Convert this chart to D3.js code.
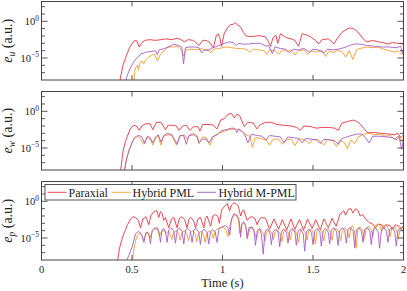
<!DOCTYPE html>
<html>
<head>
<meta charset="utf-8">
<script src="https://cdn.jsdelivr.net/npm/d3@7"></script>
<style>
  body { margin: 0; background: white; }
  svg { display: block; font-family: "Liberation Serif", "DejaVu Serif", serif; }
</style>
</head>
<body>
<svg id="chart" width="407" height="291"></svg>
<script>
// time axis ticks (s)
const timeTicks = [0, 0.5, 1, 1.5, 2];
const seriesNames = ["Paraxial", "Hybrid PML", "Hybrid M-PML"];
const seriesColors = ["#e8343f", "#fb9a2c", "#a45dc4"];
const panelSubs = ["u", "w", "p"];
const majorExps = [0, -5];      // labelled decades
const minorExps = [-7, -6, -5, -4, -3, -2, -1, 0, 1, 2];

// every point: [time, log10(error)]
const euParaxial = [[0.43,-8.5],[0.45,-6.0],[0.47,-4.6],[0.49,-3.4],[0.51,-2.7],[0.525,-2.6],[0.54,-3.5],[0.555,-2.9],[0.57,-2.6],[0.60,-2.5],[0.63,-2.6],[0.66,-2.5],[0.69,-2.4],[0.72,-2.5],[0.75,-2.3],[0.77,-2.5],[0.79,-2.8],[0.81,-2.5],[0.84,-2.6],[0.87,-3.3],[0.89,-2.6],[0.91,-2.6],[0.93,-2.9],[0.95,-3.6],[0.965,-2.0],[0.975,-1.7],[0.985,-2.2],[0.995,-3.4],[1.01,-1.6],[1.03,-0.8],[1.045,-0.45],[1.06,-0.4],[1.07,-0.2],[1.085,-0.5],[1.10,-0.8],[1.115,-1.5],[1.13,-2.0],[1.16,-2.1],[1.20,-1.95],[1.235,-2.1],[1.25,-2.6],[1.265,-3.4],[1.28,-2.2],[1.295,-1.9],[1.305,-3.0],[1.32,-1.7],[1.35,-2.2],[1.38,-2.4],[1.40,-2.6],[1.42,-3.4],[1.44,-1.7],[1.47,-1.9],[1.49,-2.2],[1.515,-2.6],[1.53,-3.1],[1.55,-2.5],[1.585,-2.4],[1.60,-2.7],[1.615,-3.1],[1.635,-2.3],[1.66,-1.5],[1.68,-1.2],[1.70,-0.9],[1.725,-1.0],[1.745,-1.4],[1.765,-2.0],[1.785,-2.6],[1.80,-2.8],[1.83,-2.6],[1.86,-2.8],[1.89,-2.9],[1.91,-3.1],[1.94,-2.9],[1.97,-3.0],[2.0,-3.1]];
const euHybridPml = [[0.51,-8.5],[0.515,-6.8],[0.52,-6.3],[0.53,-6.0],[0.535,-6.6],[0.545,-5.6],[0.555,-5.4],[0.565,-5.8],[0.575,-5.3],[0.59,-4.9],[0.61,-4.6],[0.625,-4.5],[0.64,-5.4],[0.655,-4.6],[0.68,-3.9],[0.70,-3.5],[0.73,-3.5],[0.75,-3.4],[0.77,-3.8],[0.785,-4.7],[0.80,-3.9],[0.83,-3.8],[0.86,-3.9],[0.88,-3.7],[0.90,-3.9],[0.92,-3.8],[0.935,-4.3],[0.95,-3.8],[0.98,-3.7],[1.00,-3.6],[1.02,-3.5],[1.05,-3.6],[1.08,-3.7],[1.10,-3.7],[1.13,-3.8],[1.15,-4.2],[1.17,-3.8],[1.20,-3.9],[1.23,-4.0],[1.245,-4.5],[1.26,-3.9],[1.29,-4.0],[1.31,-4.5],[1.33,-3.9],[1.36,-4.1],[1.38,-3.9],[1.40,-4.6],[1.42,-4.0],[1.45,-3.9],[1.47,-4.5],[1.49,-4.0],[1.52,-4.2],[1.55,-4.0],[1.57,-4.8],[1.59,-4.0],[1.61,-4.3],[1.63,-4.0],[1.66,-4.1],[1.68,-4.9],[1.70,-4.0],[1.72,-5.2],[1.74,-3.9],[1.76,-3.7],[1.78,-3.6],[1.80,-3.5],[1.83,-3.6],[1.86,-3.5],[1.89,-3.8],[1.92,-4.0],[1.95,-4.2],[1.97,-4.0],[1.99,-4.5],[2.0,-4.3]];
const euHybridMpml = [[0.46,-8.5],[0.475,-7.3],[0.49,-6.4],[0.51,-5.5],[0.53,-4.9],[0.55,-4.45],[0.58,-4.2],[0.61,-4.1],[0.63,-4.0],[0.64,-4.5],[0.65,-3.9],[0.68,-3.7],[0.71,-3.4],[0.73,-3.1],[0.755,-3.3],[0.775,-3.5],[0.785,-5.8],[0.795,-3.6],[0.82,-3.5],[0.85,-3.5],[0.87,-3.6],[0.885,-4.3],[0.90,-3.9],[0.92,-4.0],[0.935,-3.7],[0.96,-3.5],[0.98,-3.3],[1.00,-3.1],[1.035,-2.8],[1.06,-2.9],[1.075,-3.3],[1.09,-3.0],[1.11,-3.1],[1.14,-3.1],[1.18,-3.0],[1.21,-3.0],[1.24,-3.4],[1.255,-3.3],[1.275,-4.4],[1.29,-3.5],[1.32,-3.7],[1.35,-3.8],[1.37,-4.3],[1.39,-3.8],[1.42,-3.9],[1.45,-3.7],[1.48,-4.2],[1.50,-3.8],[1.53,-3.9],[1.56,-4.3],[1.58,-3.8],[1.61,-3.9],[1.64,-3.8],[1.67,-3.6],[1.70,-3.3],[1.73,-3.1],[1.76,-3.1],[1.80,-3.3],[1.84,-3.4],[1.88,-3.5],[1.92,-3.5],[1.96,-3.6],[1.985,-3.4],[1.995,-4.4],[2.0,-3.8]];

const ewParaxial = [[0.435,-8.5],[0.45,-5.5],[0.465,-4.0],[0.49,-2.4],[0.51,-1.9],[0.525,-2.0],[0.54,-2.6],[0.555,-2.0],[0.575,-1.7],[0.60,-1.7],[0.615,-2.5],[0.635,-1.5],[0.66,-1.5],[0.685,-2.5],[0.70,-1.9],[0.73,-1.9],[0.745,-2.0],[0.76,-2.6],[0.78,-2.0],[0.80,-1.9],[0.82,-2.6],[0.84,-2.1],[0.865,-2.1],[0.875,-2.7],[0.89,-1.8],[0.93,-1.8],[0.95,-1.9],[0.97,-2.4],[0.99,-1.2],[1.01,-1.0],[1.03,-0.4],[1.05,-0.3],[1.065,-0.9],[1.08,-0.4],[1.095,-0.6],[1.12,-2.1],[1.14,-1.5],[1.17,-1.6],[1.19,-2.4],[1.21,-1.8],[1.24,-1.5],[1.27,-1.5],[1.30,-1.8],[1.34,-1.9],[1.38,-2.0],[1.41,-2.2],[1.43,-2.6],[1.45,-2.0],[1.49,-2.1],[1.52,-2.3],[1.55,-2.2],[1.59,-2.2],[1.62,-2.3],[1.64,-2.6],[1.66,-1.6],[1.69,-1.4],[1.72,-1.2],[1.745,-1.4],[1.77,-2.0],[1.80,-2.9],[1.84,-2.9],[1.88,-3.0],[1.92,-3.1],[1.95,-3.2],[1.97,-3.0],[1.985,-3.6],[2.0,-3.2]];
const ewHybridPml = [[0.455,-8.5],[0.47,-6.5],[0.485,-5.2],[0.51,-3.8],[0.525,-3.5],[0.54,-3.5],[0.55,-3.9],[0.565,-4.5],[0.58,-3.6],[0.60,-3.7],[0.615,-4.6],[0.63,-3.6],[0.645,-3.4],[0.66,-4.6],[0.675,-3.4],[0.70,-3.2],[0.72,-3.3],[0.745,-4.6],[0.765,-3.4],[0.79,-3.2],[0.80,-3.8],[0.82,-3.2],[0.84,-3.0],[0.86,-3.3],[0.87,-4.4],[0.89,-3.5],[0.91,-3.6],[0.93,-4.6],[0.95,-3.4],[0.98,-3.0],[1.01,-2.7],[1.04,-2.5],[1.07,-2.4],[1.09,-2.5],[1.11,-2.8],[1.13,-3.2],[1.15,-3.4],[1.165,-4.9],[1.18,-3.6],[1.21,-3.7],[1.24,-3.9],[1.26,-4.6],[1.28,-3.8],[1.31,-3.8],[1.33,-4.5],[1.35,-3.9],[1.38,-3.8],[1.40,-4.7],[1.42,-3.8],[1.45,-3.8],[1.48,-4.4],[1.50,-3.8],[1.53,-3.9],[1.56,-4.6],[1.58,-3.8],[1.61,-4.0],[1.63,-4.8],[1.65,-3.9],[1.67,-4.2],[1.69,-5.1],[1.71,-3.9],[1.73,-4.4],[1.75,-3.5],[1.78,-3.1],[1.81,-3.0],[1.84,-3.2],[1.87,-3.1],[1.90,-3.4],[1.93,-3.3],[1.95,-3.8],[1.97,-3.4],[1.99,-4.0],[2.0,-3.6]];
const ewHybridMpml = [[0.455,-8.5],[0.47,-6.5],[0.485,-5.2],[0.51,-3.7],[0.525,-3.4],[0.54,-3.3],[0.555,-3.5],[0.57,-4.4],[0.585,-3.4],[0.60,-3.6],[0.615,-4.3],[0.63,-3.5],[0.645,-3.2],[0.66,-4.2],[0.675,-3.3],[0.70,-3.0],[0.72,-3.2],[0.75,-4.5],[0.765,-3.3],[0.785,-3.3],[0.80,-4.5],[0.815,-3.3],[0.84,-3.2],[0.86,-3.5],[0.87,-4.3],[0.89,-3.8],[0.91,-3.8],[0.925,-4.3],[0.945,-3.5],[0.97,-3.2],[0.99,-2.7],[1.02,-2.5],[1.05,-2.3],[1.065,-2.3],[1.08,-2.9],[1.09,-2.4],[1.10,-2.6],[1.12,-3.0],[1.14,-4.3],[1.16,-3.1],[1.19,-3.3],[1.22,-3.4],[1.24,-3.9],[1.26,-3.3],[1.29,-3.4],[1.32,-3.5],[1.34,-4.3],[1.36,-3.5],[1.39,-3.6],[1.42,-3.7],[1.44,-4.3],[1.46,-3.7],[1.49,-3.8],[1.52,-3.9],[1.54,-4.4],[1.56,-3.8],[1.59,-3.9],[1.62,-4.0],[1.64,-4.5],[1.66,-3.7],[1.70,-3.4],[1.74,-3.1],[1.77,-3.1],[1.79,-3.6],[1.81,-4.3],[1.83,-3.4],[1.87,-3.4],[1.91,-3.5],[1.94,-3.6],[1.96,-3.9],[1.975,-3.4],[1.99,-5.2],[2.0,-3.8]];

const epParaxial = [[0.418,-8.5],[0.43,-6.5],[0.445,-5.1],[0.46,-4.1],[0.475,-3.2],[0.49,-2.5],[0.505,-2.1],[0.52,-2.2],[0.535,-2.6],[0.547,-3.6],[0.56,-2.4],[0.577,-2.1],[0.593,-3.2],[0.605,-1.9],[0.622,-1.4],[0.638,-1.3],[0.648,-2.2],[0.657,-1.4],[0.667,-1.7],[0.675,-2.6],[0.685,-2.2],[0.703,-3.6],[0.718,-2.4],[0.731,-2.2],[0.749,-3.6],[0.762,-2.3],[0.777,-2.1],[0.791,-2.5],[0.804,-3.6],[0.815,-2.4],[0.823,-2.2],[0.84,-2.6],[0.851,-3.6],[0.865,-2.4],[0.878,-2.2],[0.897,-3.6],[0.906,-2.3],[0.915,-2.0],[0.934,-3.4],[0.947,-2.0],[0.96,-1.8],[0.975,-2.1],[0.983,-3.0],[0.995,-1.2],[1.007,-0.8],[1.026,-0.3],[1.039,-1.3],[1.05,-0.5],[1.063,-0.2],[1.078,-0.4],[1.087,-0.6],[1.10,-2.0],[1.11,-1.3],[1.118,-1.2],[1.136,-2.6],[1.15,-2.2],[1.164,-2.1],[1.18,-2.4],[1.191,-3.2],[1.205,-2.4],[1.219,-2.2],[1.238,-2.3],[1.26,-3.8],[1.285,-2.4],[1.31,-3.8],[1.33,-2.5],[1.355,-3.9],[1.378,-2.4],[1.40,-3.8],[1.425,-2.5],[1.448,-3.9],[1.47,-2.4],[1.495,-3.7],[1.515,-2.5],[1.54,-3.9],[1.56,-2.4],[1.585,-3.6],[1.605,-2.3],[1.628,-3.4],[1.65,-1.7],[1.67,-1.3],[1.68,-1.9],[1.695,-1.1],[1.71,-1.0],[1.72,-1.6],[1.735,-1.0],[1.75,-1.3],[1.76,-2.0],[1.775,-1.8],[1.79,-2.4],[1.81,-2.9],[1.83,-3.1],[1.845,-3.6],[1.86,-3.1],[1.88,-3.2],[1.89,-3.7],[1.905,-3.2],[1.925,-3.3],[1.94,-3.8],[1.955,-3.2],[1.975,-3.4],[1.99,-3.8],[2.0,-3.3]];
const epHybridPml = [[0.50,-8.5],[0.51,-6.6],[0.52,-5.3],[0.53,-4.6],[0.545,-4.3],[0.558,-4.8],[0.566,-5.3],[0.578,-4.4],[0.59,-4.3],[0.60,-5.0],[0.612,-4.1],[0.625,-3.8],[0.64,-3.8],[0.652,-4.7],[0.66,-4.3],[0.675,-3.9],[0.688,-4.4],[0.70,-4.1],[0.712,-4.6],[0.72,-5.2],[0.73,-4.3],[0.745,-4.0],[0.758,-4.4],[0.766,-5.3],[0.776,-4.3],[0.79,-4.0],[0.804,-4.5],[0.812,-5.4],[0.822,-4.3],[0.836,-4.0],[0.85,-4.5],[0.858,-5.5],[0.868,-4.3],[0.882,-4.1],[0.896,-4.6],[0.904,-5.6],[0.914,-4.3],[0.928,-4.0],[0.942,-4.4],[0.95,-5.1],[0.96,-4.0],[0.975,-3.7],[0.99,-3.6],[1.005,-3.5],[1.02,-4.0],[1.03,-4.8],[1.045,-2.8],[1.06,-2.0],[1.075,-1.9],[1.088,-2.5],[1.096,-4.4],[1.106,-3.1],[1.12,-2.9],[1.13,-3.6],[1.14,-4.8],[1.152,-3.7],[1.165,-3.6],[1.178,-4.3],[1.188,-5.2],[1.198,-4.0],[1.21,-3.8],[1.225,-4.4],[1.235,-5.4],[1.245,-4.1],[1.258,-3.9],[1.272,-4.3],[1.282,-5.2],[1.292,-4.1],[1.305,-3.9],[1.318,-4.4],[1.328,-5.5],[1.338,-4.1],[1.35,-3.9],[1.364,-4.3],[1.374,-5.3],[1.384,-4.0],[1.397,-3.8],[1.41,-4.4],[1.42,-5.6],[1.43,-4.0],[1.443,-3.8],[1.457,-4.3],[1.467,-5.3],[1.477,-4.0],[1.49,-3.8],[1.503,-4.4],[1.513,-5.8],[1.523,-4.0],[1.536,-3.7],[1.55,-4.3],[1.56,-5.4],[1.57,-4.0],[1.583,-3.7],[1.596,-4.2],[1.606,-5.3],[1.616,-3.9],[1.63,-3.7],[1.643,-4.2],[1.653,-5.4],[1.663,-3.9],[1.676,-3.6],[1.69,-4.1],[1.70,-5.0],[1.71,-3.5],[1.72,-3.3],[1.73,-4.2],[1.738,-6.4],[1.748,-3.9],[1.76,-3.5],[1.774,-4.0],[1.784,-5.1],[1.794,-3.7],[1.808,-3.4],[1.822,-4.0],[1.83,-4.9],[1.84,-3.4],[1.855,-3.1],[1.87,-3.3],[1.88,-4.1],[1.89,-3.3],[1.905,-3.2],[1.918,-3.8],[1.926,-4.8],[1.936,-3.6],[1.95,-3.5],[1.962,-4.0],[1.972,-5.0],[1.982,-3.6],[1.995,-3.5],[2.0,-3.6]];
const epHybridMpml = [[0.464,-8.5],[0.482,-7.4],[0.501,-6.2],[0.52,-4.4],[0.538,-4.1],[0.552,-4.5],[0.566,-5.6],[0.576,-4.3],[0.584,-4.2],[0.594,-4.6],[0.602,-5.8],[0.611,-4.0],[0.62,-3.7],[0.639,-3.6],[0.65,-4.2],[0.657,-5.6],[0.666,-3.9],[0.675,-3.7],[0.686,-4.2],[0.694,-5.6],[0.703,-3.9],[0.715,-3.6],[0.73,-4.0],[0.74,-5.7],[0.75,-3.9],[0.762,-3.6],[0.777,-4.1],[0.786,-5.8],[0.796,-3.9],[0.808,-3.7],[0.823,-4.1],[0.832,-5.6],[0.842,-3.9],[0.855,-3.7],[0.869,-4.2],[0.878,-5.9],[0.888,-4.0],[0.90,-3.8],[0.915,-4.3],[0.924,-5.8],[0.934,-4.1],[0.947,-3.9],[0.96,-4.2],[0.97,-5.6],[0.98,-3.8],[0.995,-3.5],[1.017,-3.3],[1.03,-3.6],[1.04,-4.6],[1.05,-2.4],[1.063,-1.7],[1.081,-1.9],[1.092,-2.6],[1.10,-4.9],[1.108,-3.0],[1.118,-2.8],[1.128,-3.3],[1.136,-5.1],[1.146,-3.6],[1.164,-3.5],[1.174,-4.0],[1.182,-6.0],[1.192,-4.0],[1.205,-3.7],[1.215,-4.5],[1.225,-7.2],[1.235,-4.1],[1.25,-3.8],[1.262,-4.3],[1.27,-5.9],[1.28,-4.1],[1.295,-3.8],[1.308,-4.3],[1.316,-6.2],[1.326,-4.1],[1.34,-3.8],[1.354,-4.3],[1.362,-5.7],[1.372,-4.0],[1.386,-3.7],[1.40,-4.2],[1.408,-6.0],[1.418,-4.0],[1.432,-3.8],[1.446,-4.4],[1.454,-6.8],[1.464,-4.1],[1.478,-3.8],[1.492,-4.3],[1.50,-5.9],[1.51,-4.0],[1.524,-3.7],[1.538,-4.2],[1.546,-6.1],[1.556,-4.0],[1.57,-3.7],[1.584,-4.2],[1.592,-5.8],[1.602,-3.9],[1.616,-3.6],[1.63,-4.1],[1.638,-6.0],[1.648,-3.9],[1.662,-3.6],[1.676,-4.0],[1.684,-5.7],[1.694,-3.8],[1.708,-3.6],[1.722,-4.1],[1.73,-6.3],[1.74,-3.9],[1.754,-3.6],[1.768,-4.1],[1.776,-5.6],[1.786,-3.8],[1.80,-3.6],[1.814,-4.1],[1.822,-5.9],[1.832,-3.9],[1.846,-3.6],[1.86,-4.2],[1.868,-6.4],[1.878,-3.9],[1.892,-3.6],[1.906,-4.1],[1.914,-5.6],[1.924,-3.8],[1.938,-3.6],[1.952,-4.2],[1.96,-6.1],[1.97,-3.9],[1.984,-3.6],[1.995,-4.0],[2.0,-3.8]];

const panelSeries = [
    [euParaxial, euHybridPml, euHybridMpml],
    [ewParaxial, ewHybridPml, ewHybridMpml],
    [epParaxial, epHybridPml, epHybridMpml]
];

const svg = d3.select("#chart");
const left = 41.5, right = 403.5;
const panelTops = [1.5, 91.5, 181.5];
const panelH = 78.5;
const frameColor = "#444";

const x = d3.scaleLinear().domain([0, 2]).range([left, right]);

panelSeries.forEach((series, pi) => {
    const top = panelTops[pi];
    const y = d3.scaleLog().domain([1e-8, 500]).range([top + panelH, top]);
    const g = svg.append("g");

    //clip so the rising curves stop at the frame
    const clipId = "clip" + pi;
    svg.append("clipPath").attr("id", clipId)
        .append("rect")
        .attr("x", left).attr("y", top)
        .attr("width", right - left).attr("height", panelH);

    const line = d3.line()
        .x(d => x(d[0]))
        .y(d => y(Math.pow(10, d[1])));

    g.append("g").attr("clip-path", `url(#${clipId})`)
        .selectAll("path")
        .data(series)
        .enter()
        .append("path")
        .attr("d", d => line(d))
        .attr("fill", "none")
        .attr("stroke", (d, i) => seriesColors[i])
        .attr("stroke-width", 0.9)
        .attr("stroke-linejoin", "round");

    //x ticks, inward on bottom and top
    const xt = g.append("g").attr("stroke", frameColor).attr("stroke-width", 0.9);
    timeTicks.slice(1, -1).forEach(t => {
        xt.append("line").attr("x1", x(t)).attr("x2", x(t))
            .attr("y1", top + panelH).attr("y2", top + panelH - 5);
        xt.append("line").attr("x1", x(t)).attr("x2", x(t))
            .attr("y1", top).attr("y2", top + 5);
    });

    //y ticks each decade, longer on labelled decades
    minorExps.forEach(e => {
        const yy = y(Math.pow(10, e));
        const len = majorExps.includes(e) ? 6 : 3.5;
        xt.append("line").attr("x1", left).attr("x2", left + len).attr("y1", yy).attr("y2", yy);
        xt.append("line").attr("x1", right).attr("x2", right - len).attr("y1", yy).attr("y2", yy);
    });

    //frame
    g.append("rect")
        .attr("x", left).attr("y", top)
        .attr("width", right - left).attr("height", panelH)
        .attr("fill", "none")
        .attr("stroke", frameColor)
        .attr("stroke-width", 1);

    //y tick labels 10^0 and 10^-5
    majorExps.forEach(e => {
        const t = g.append("text")
            .attr("x", 39)
            .attr("y", y(Math.pow(10, e)) + 4)
            .attr("text-anchor", "end")
            .style("font-size", "10.5px")
            .style("fill", "#222");
        t.append("tspan").text("10");
        t.append("tspan").attr("dy", -4.5).style("font-size", "7.5px")
            .text(e < 0 ? "\u2212" + (-e) : e);
    });

    //y label
    const lab = g.append("text")
        .attr("transform", `translate(12,${top + panelH / 2}) rotate(-90)`)
        .attr("text-anchor", "middle")
        .style("font-size", "14px")
        .style("fill", "#222");
    lab.append("tspan").style("font-style", "italic").text("e");
    lab.append("tspan").attr("dy", 3).style("font-size", "9.5px").style("font-style", "italic").text(panelSubs[pi]);
    lab.append("tspan").attr("dy", -3).text(" (a.u.)");
});

//x tick labels under the last panel
const bottom = panelTops[2] + panelH;
svg.append("g")
    .selectAll("text")
    .data(timeTicks)
    .enter()
    .append("text")
    .attr("x", d => x(d))
    .attr("y", bottom + 12.5)
    .attr("text-anchor", "middle")
    .style("font-size", "10.5px")
    .style("fill", "#222")
    .text(d => d);

svg.append("text")
    .attr("x", (left + right) / 2)
    .attr("y", 287)
    .attr("text-anchor", "middle")
    .style("font-size", "12.5px")
    .style("fill", "#222")
    .text("Time (s)");

//legend in the last panel
const leg = svg.append("g");
leg.append("rect")
    .attr("x", 45).attr("y", 184.5)
    .attr("width", 251).attr("height", 15.5)
    .attr("fill", "white")
    .attr("stroke", frameColor)
    .attr("stroke-width", 0.9);
const legLineX = [47.5, 111.5, 197];
const legTextX = [68.5, 132.5, 218.5];
seriesNames.forEach((name, i) => {
    leg.append("line")
        .attr("x1", legLineX[i]).attr("x2", legLineX[i] + 19)
        .attr("y1", 192.3).attr("y2", 192.3)
        .attr("stroke", seriesColors[i])
        .attr("stroke-width", 0.9);
    leg.append("text")
        .attr("x", legTextX[i])
        .attr("y", 196.5)
        .style("font-size", "12px")
        .style("fill", "#222")
        .text(name);
});
</script>
</body>
</html>
